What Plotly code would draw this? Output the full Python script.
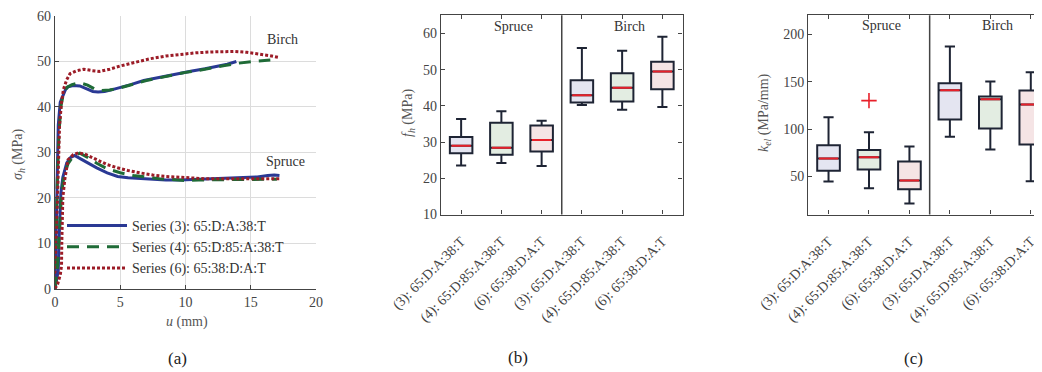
import plotly.graph_objects as go

W, H = 1042, 372
OFF = 8  # page body margin of the written html
FONT = "Liberation Serif, Times New Roman, serif"

# ---------------- Panel (a): embedment curves (u in mm, sigma_h in MPa) ----------------
series_names = ["Series (3): 65:D:A:38:T", "Series (4): 65:D:85:A:38:T", "Series (6): 65:38:D:A:T"]

birch3_u = [0, 0.05, 0.1, 0.15, 0.25, 0.4, 0.6, 0.8, 1.0, 1.4, 1.9, 2.4, 2.9, 3.3, 3.8, 4.4, 5.0, 5.8, 6.8, 7.8, 8.8, 9.6, 10.5, 11.5, 12.5, 13.2, 13.9]
birch3_s = [0, 6, 14, 24, 36, 41, 42.5, 43.8, 44.4, 44.7, 44.6, 44.0, 43.4, 43.3, 43.4, 43.8, 44.2, 44.9, 45.8, 46.4, 47.0, 47.5, 47.9, 48.4, 48.9, 49.4, 50.0]
birch4_u = [0, 0.05, 0.1, 0.18, 0.3, 0.45, 0.65, 0.9, 1.3, 1.9, 2.5, 3.0, 3.5, 4.2, 5.0, 6.0, 7.0, 8.0, 9.0, 10.0, 11.0, 12.0, 13.0, 14.0, 14.7, 15.5, 16.5]
birch4_s = [0, 5, 13, 24, 34, 40, 43, 44.3, 44.9, 45.3, 44.8, 44.0, 43.6, 43.7, 44.2, 45.0, 45.8, 46.4, 47.0, 47.6, 48.0, 48.6, 49.1, 49.6, 49.9, 50.1, 50.3]
birch6_u = [0, 0.05, 0.1, 0.2, 0.35, 0.5, 0.65, 0.9, 1.15, 1.6, 2.2, 2.8, 3.4, 4.2, 5.0, 6.0, 7.3, 8.5, 9.6, 10.8, 12.0, 12.9, 13.8, 14.7, 15.6, 16.4, 17.1]
birch6_s = [0, 5, 12, 24, 36, 41, 43.9, 46.0, 47.3, 47.9, 48.3, 48.0, 47.8, 48.3, 49.0, 49.7, 50.6, 51.2, 51.6, 51.9, 52.1, 52.2, 52.2, 52.0, 51.7, 51.3, 50.9]

spruce3_u = [0, 0.1, 0.2, 0.25, 0.3, 0.35, 0.45, 0.6, 0.9, 1.2, 1.5, 2.0, 2.6, 3.2, 4.0, 4.8, 5.6, 6.5, 7.5, 8.5, 9.6, 10.5, 11.5, 12.5, 13.5, 14.5, 15.5, 16.3, 16.8, 17.2]
spruce3_s = [0, 2, 3.5, 4, 10, 16, 21, 24.5, 27.7, 28.9, 29.3, 28.5, 27.5, 26.6, 25.5, 24.7, 24.4, 24.2, 24.0, 23.9, 23.9, 24.0, 24.1, 24.2, 24.3, 24.4, 24.6, 24.9, 25.0, 24.9]
spruce4_u = [0, 0.1, 0.2, 0.3, 0.4, 0.5, 0.7, 1.0, 1.4, 1.9, 2.5, 3.2, 4.0, 5.0, 6.0, 7.0, 8.0, 9.0, 10.0, 11.0, 12.0, 13.0, 14.0, 15.0, 16.0, 17.0]
spruce4_s = [0, 2, 5, 10, 16, 21, 25, 27.5, 29.2, 29.8, 28.9, 27.6, 26.4, 25.5, 24.9, 24.5, 24.2, 24.0, 23.8, 23.9, 24.0, 24.0, 24.0, 24.0, 24.1, 24.1]
spruce6_u = [0, 0.2, 0.4, 0.5, 0.52, 0.55, 0.6, 0.75, 1.0, 1.4, 1.8, 2.3, 2.8, 3.4, 4.0, 4.8, 5.6, 6.5, 7.5, 8.5, 9.5, 10.5, 11.5, 12.5, 13.5, 14.5, 15.5, 16.5, 17.2]
spruce6_s = [0, 1, 3, 5, 10, 15, 20, 24, 28.4, 29.5, 29.9, 29.6, 28.9, 28.1, 27.3, 26.6, 26.0, 25.5, 25.0, 24.7, 24.5, 24.3, 24.2, 24.2, 24.2, 24.3, 24.3, 24.3, 24.2]

# ---------------- Panels (b) and (c): box statistics ----------------
categories = ["(3): 65:D:A:38:T", "(4): 65:D:85:A:38:T", "(6): 65:38:D:A:T",
              "(3): 65:D:A:38:T", "(4): 65:D:85:A:38:T", "(6): 65:38:D:A:T"]
positions = [1, 2, 3, 4, 5, 6]

fh_low = [23.5, 24.2, 23.4, 40.2, 38.9, 39.7]
fh_q1 = [26.9, 26.5, 27.4, 40.9, 41.2, 44.6]
fh_med = [29.0, 28.4, 30.6, 42.9, 45.0, 49.5]
fh_q3 = [31.4, 35.3, 34.6, 47.1, 49.0, 52.2]
fh_high = [36.4, 38.5, 35.9, 56.0, 55.2, 59.1]

kel_low = [44.8, 37.7, 21.6, 91.9, 78.5, 45.1]
kel_q1 = [56.0, 57.4, 36.7, 110.1, 100.6, 83.8]
kel_med = [69.0, 70.4, 45.8, 141.0, 131.5, 126.0]
kel_q3 = [83.0, 78.0, 65.8, 148.4, 134.4, 140.7]
kel_high = [112.5, 96.7, 81.7, 187.0, 150.2, 160.0]
kel_outlier_x = [2]
kel_outlier_y = [130.0]

fills = ["#e4e5f1", "#e3ede2", "#f5e4e5", "#e4e5f1", "#e3ede2", "#f5e4e5"]
colors = ["#2a3994", "#1f6b37", "#9c1c27"]
dashes = ["solid", "12px,8px", "3px,2px"]


def px(x):
    return (x - OFF) / W


def py(y):
    return (H - (y - OFF)) / H


fig = go.Figure()

curves = [
    (birch3_u, birch3_s, 0, True), (birch4_u, birch4_s, 1, True), (birch6_u, birch6_s, 2, True),
    (spruce3_u, spruce3_s, 0, False), (spruce4_u, spruce4_s, 1, False), (spruce6_u, spruce6_s, 2, False),
]
for u, s, k, show in curves:
    fig.add_trace(go.Scatter(
        x=u, y=s, mode="lines", name=series_names[k], legendgroup=series_names[k],
        showlegend=show, line=dict(color=colors[k], width=3, dash=dashes[k]),
        xaxis="x", yaxis="y"))

BOXW = 0.56


def add_boxes(xa, ya, low, q1, med, q3, high):
    for i, p in enumerate(positions):
        fig.add_trace(go.Box(
            x=[p], q1=[q1[i]], median=[med[i]], q3=[q3[i]],
            lowerfence=[low[i]], upperfence=[high[i]],
            boxpoints=False, width=BOXW, whiskerwidth=0.45,
            fillcolor=fills[i], line=dict(color="#1e2434", width=2),
            showlegend=False, xaxis=xa, yaxis=ya))
    mx, my = [], []
    for i, p in enumerate(positions):
        mx += [p - BOXW / 2 + 0.04, p + BOXW / 2 - 0.04, None]
        my += [med[i], med[i], None]
    fig.add_trace(go.Scatter(x=mx, y=my, mode="lines", line=dict(color="#e8202a", width=2),
                             showlegend=False, xaxis=xa, yaxis=ya))


add_boxes("x2", "y2", fh_low, fh_q1, fh_med, fh_q3, fh_high)
add_boxes("x3", "y3", kel_low, kel_q1, kel_med, kel_q3, kel_high)
fig.add_trace(go.Scatter(x=kel_outlier_x, y=kel_outlier_y, mode="markers",
                         marker=dict(symbol="cross-thin", size=11, line=dict(color="#e8202a", width=1.6)),
                         showlegend=False, xaxis="x3", yaxis="y3"))

tickfont = dict(family=FONT, size=14, color="#444444")
ax_common = dict(ticks="inside", ticklen=4, tickcolor="#444444", showline=True, linecolor="#444444",
                 linewidth=1.3, zeroline=False, tickfont=tickfont, automargin=False)

fig.update_layout(
    width=W, height=H, margin=dict(l=0, r=0, t=0, b=0, autoexpand=False),
    paper_bgcolor="white", plot_bgcolor="white",
    font=dict(family=FONT, size=14, color="#333333"),
    xaxis=dict(domain=[px(55), px(316)], range=[0, 20], tickvals=[0, 5, 10, 15, 20], anchor="y",
               showgrid=True, gridcolor="#dcdcdc", gridwidth=1, **ax_common),
    yaxis=dict(domain=[py(288.7), py(16)], range=[0, 60], tickvals=[0, 10, 20, 30, 40, 50, 60], anchor="x",
               showgrid=True, gridcolor="#dcdcdc", gridwidth=1, **ax_common),
    xaxis2=dict(domain=[px(441), px(682.5)], range=[0.5, 6.5], tickvals=positions, ticktext=categories,
                tickangle=-45, anchor="y2", showgrid=False, mirror="ticks", ticklabelstandoff=12, **ax_common),
    yaxis2=dict(domain=[py(214.5), py(15.3)], range=[10, 65], tickvals=[10, 20, 30, 40, 50, 60], anchor="x2",
                showgrid=False, mirror="ticks", **ax_common),
    xaxis3=dict(domain=[px(808.3), 1.0], range=[0.5, 6.475], tickvals=positions, ticktext=categories,
                tickangle=-45, anchor="y3", showgrid=False, mirror="ticks", ticklabelstandoff=12, **ax_common),
    yaxis3=dict(domain=[py(214.5), py(15.3)], range=[10, 220], tickvals=[50, 100, 150, 200], anchor="x3",
                showgrid=False, mirror="ticks", **ax_common),
    legend=dict(x=px(62), y=py(210), xanchor="left", yanchor="top", bgcolor="rgba(0,0,0,0)",
                font=dict(family=FONT, size=14, color="#333333"), itemwidth=60, tracegroupgap=0),
    showlegend=True,
)

# divider lines between Spruce and Birch
for xa, ya in [("x2", "y2"), ("x3", "y3")]:
    fig.add_shape(type="line", xref=xa, yref=ya + " domain", x0=3.5, x1=3.5, y0=0, y1=1,
                  line=dict(color="#444444", width=1.5))

C = dict(xanchor="center", yanchor="middle", showarrow=False)
ann = []
lab = dict(family=FONT, size=14, color="#333333")
ann.append(dict(text="Birch", x=17.4, y=54.9, xref="x", yref="y", font=lab, **C))
ann.append(dict(text="Spruce", x=17.7, y=28.0, xref="x", yref="y", font=lab, **C))
ann.append(dict(text="Spruce", x=2.31, y=62.0, xref="x2", yref="y2", font=lab, **C))
ann.append(dict(text="Birch", x=5.19, y=62.0, xref="x2", yref="y2", font=lab, **C))
ann.append(dict(text="Spruce", x=2.30, y=209.5, xref="x3", yref="y3", font=lab, **C))
ann.append(dict(text="Birch", x=5.17, y=209.5, xref="x3", yref="y3", font=lab, **C))
# axis titles
tit = dict(family=FONT, size=14, color="#555555")
ann.append(dict(text="<i>σ</i><sub><i>h</i></sub> (MPa)", x=px(18), y=py(155), xref="paper", yref="paper",
                textangle=-90, font=tit, **C))
ann.append(dict(text="<i>u</i> (mm)", x=px(187), y=py(321.7), xref="paper", yref="paper", font=tit, **C))
ann.append(dict(text="<i>f</i><sub><i>h</i></sub> (MPa)", x=px(409), y=py(113), xref="paper", yref="paper",
                textangle=-90, font=tit, **C))
ann.append(dict(text="<i>k</i><sub><i>el</i></sub> (MPa/mm)", x=px(765), y=py(113), xref="paper", yref="paper",
                textangle=-90, font=tit, **C))
# panel labels
pl = dict(family=FONT, size=17, color="#222222")
for t, xp, ypx in [("(a)", 177, 358), ("(b)", 518, 357), ("(c)", 913, 358)]:
    ann.append(dict(text=t, x=px(xp), y=py(ypx), xref="paper", yref="paper", font=pl, **C))
fig.update_layout(annotations=ann)

fig.write_html("out.html")
